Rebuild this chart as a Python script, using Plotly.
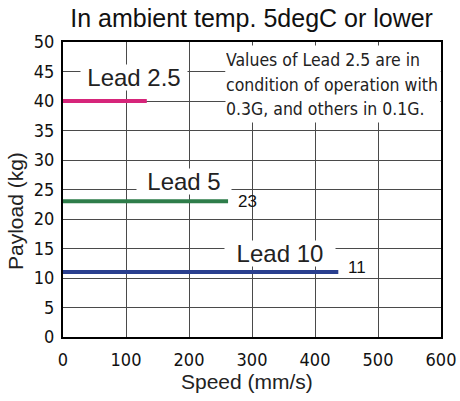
import plotly.graph_objects as go

# Data
series_names = ["Lead 2.5", "Lead 5", "Lead 10"]
max_speed = [133, 262, 437]      # mm/s
payload = [40, 23, 11]           # kg
colors = ["#d6257a", "#2e7d4a", "#2a3f8f"]
end_labels = ["", "23", "11"]
x_ticks = [0, 100, 200, 300, 400, 500, 600]
y_ticks = list(range(0, 55, 5))
note_lines = ["Values of Lead 2.5 are in",
              "condition of operation with",
              "0.3G, and others in 0.1G."]

ARIAL = "Liberation Sans, Arial, sans-serif"
COND = "DejaVu Sans Condensed, Liberation Sans, sans-serif"

fig = go.Figure()
for name, xs, ys, c in zip(series_names, max_speed, payload, colors):
    fig.add_trace(go.Scatter(x=[0, xs], y=[ys, ys], mode="lines",
                             line=dict(color=c, width=4), name=name,
                             showlegend=False, hoverinfo="skip"))

ann = []
name_pos = [(113, 43.9, 106), (192, 26.3, 94), (344, 14.2, 110)]
for name, (nx, ny, w) in zip(series_names, name_pos):
    ann.append(dict(x=nx, y=ny, xref="x", yref="y", text=name, showarrow=False,
                    font=dict(family=ARIAL, size=24, color="#222"),
                    bgcolor="white", width=w, height=25, borderpad=0,
                    xanchor="center", yanchor="middle"))
for xs, ys, lab, ysh in zip(max_speed, payload, end_labels, [0, 0, 5]):
    if lab:
        ann.append(dict(x=xs, y=ys, xref="x", yref="y", text=lab, showarrow=False,
                        font=dict(family=ARIAL, size=17, color="#111"),
                        xanchor="left", yanchor="middle", xshift=8, yshift=ysh))
note_y = [47.0, 42.85, 38.7]
for t, ny in zip(note_lines, note_y):
    ann.append(dict(x=257, y=ny, xref="x", yref="y", text=t, showarrow=False,
                    font=dict(family=COND, size=17.5, color="#222"),
                    bgcolor="white", width=214, height=27, borderpad=0,
                    align="left", xanchor="left", yanchor="middle"))
ann.append(dict(x=0.487, y=-0.1525, xref="paper", yref="paper", text="Speed (mm/s)",
                showarrow=False, xanchor="center", yanchor="middle",
                font=dict(family=ARIAL, size=21, color="#222")))
ann.append(dict(x=-0.127, y=0.427, xref="paper", yref="paper", text="Payload (kg)",
                showarrow=False, xanchor="center", yanchor="middle", textangle=-90,
                font=dict(family=ARIAL, size=21, color="#222")))

fig.update_layout(
    width=460, height=401,
    margin=dict(l=63, r=19, t=42, b=64),
    paper_bgcolor="white", plot_bgcolor="white",
    title=dict(text="In ambient temp. 5degC or lower", x=0.547, xanchor="center",
               y=1 - 18 / 401, yanchor="middle", yref="container",
               font=dict(family=ARIAL, size=25, color="#111")),
    annotations=ann,
    xaxis=dict(range=[0, 600], tickvals=x_ticks, ticks="", showgrid=True,
               gridcolor="#4a4a4a", gridwidth=1, zeroline=False, automargin=False,
               showline=True, linecolor="black", linewidth=2, mirror=True,
               tickfont=dict(family=COND, size=18, color="#111"),
               ticklabelstandoff=5),
    yaxis=dict(range=[0, 50], tickvals=y_ticks, ticks="", showgrid=True,
               gridcolor="#4a4a4a", gridwidth=1, zeroline=False, automargin=False,
               showline=True, linecolor="black", linewidth=2, mirror=True,
               tickfont=dict(family=COND, size=18, color="#111"),
               ticklabelstandoff=3),
)

fig.write_html("out.html", config={"displayModeBar": False},
               post_script="document.body.style.margin='0';")
